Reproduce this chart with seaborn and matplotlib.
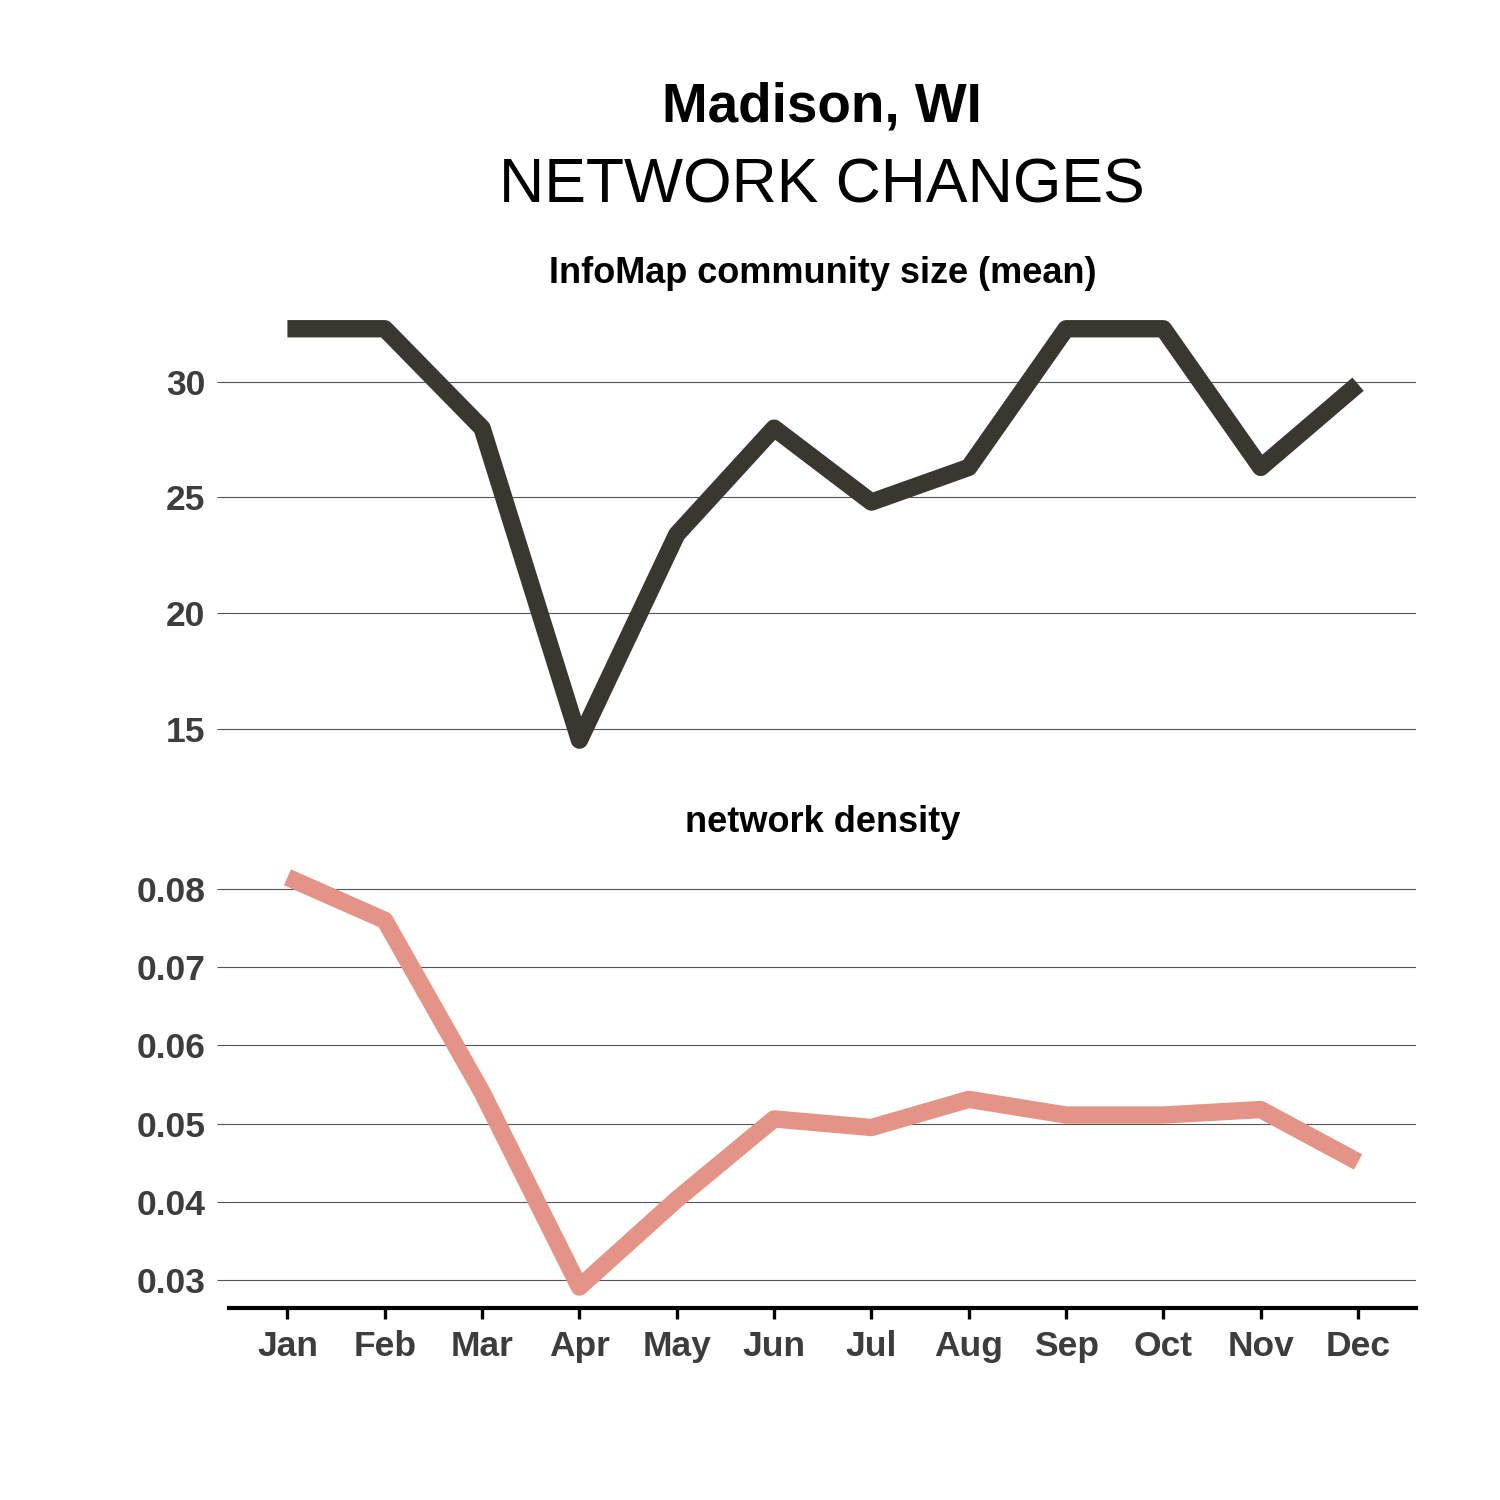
import pandas as pd
import matplotlib
matplotlib.use("Agg")
import matplotlib.pyplot as plt
import seaborn as sns

# valores
meses = ['Jan', 'Feb', 'Mar', 'Apr', 'May', 'Jun', 'Jul', 'Aug', 'Sep', 'Oct', 'Nov', 'Dec']
tamanho_comunidade = [32.3, 32.3, 28.0, 14.5, 23.4, 28.0, 24.8, 26.3, 32.3, 32.3, 26.3, 29.9]
densidade = [0.0815, 0.0760, 0.0540, 0.0291, 0.0403, 0.0506, 0.0495, 0.0531, 0.0511, 0.0511, 0.0518, 0.0451]

ticks_tamanho = [15, 20, 25, 30]
ticks_densidade = [0.03, 0.04, 0.05, 0.06, 0.07, 0.08]

df = pd.DataFrame({'mes': meses, 'tamanho': tamanho_comunidade, 'densidade': densidade})

sns.set_theme(style="white")
plt.rcParams['font.family'] = ['Liberation Sans', 'DejaVu Sans']

cor_texto = '#3d3d3d'
cor_grade = '#555555'

fig = plt.figure(figsize=(15, 15), dpi=100)
ax1 = fig.add_axes([0.1527, 0.4927, 0.7916, 0.3020])
ax2 = fig.add_axes([0.1527, 0.1283, 0.7916, 0.3005])

sns.lineplot(data=df, x='mes', y='tamanho', ax=ax1, color='#3a3730', linewidth=12.5,
             solid_capstyle='butt', solid_joinstyle='round', sort=False)
sns.lineplot(data=df, x='mes', y='densidade', ax=ax2, color='#e49486', linewidth=12.5,
             solid_capstyle='butt', solid_joinstyle='round', sort=False)

for ax in (ax1, ax2):
    ax.set_xlim(-0.6, 11.6)
    ax.set_xlabel('')
    ax.set_ylabel('')
    for s in ax.spines.values():
        s.set_visible(False)
    ax.yaxis.grid(True, color=cor_grade, linewidth=0.8)
    ax.xaxis.grid(False)
    ax.set_axisbelow(True)
    ax.tick_params(axis='y', left=True, length=8.6, width=0.8, color=cor_grade, pad=8.5,
                   labelsize=25.5, labelcolor=cor_texto)

ax1.set_ylim(13.6, 33.2)
ax1.set_yticks(ticks_tamanho)
ax1.set_yticklabels([str(t) for t in ticks_tamanho], fontweight='bold')
ax1.tick_params(axis='x', bottom=False, labelbottom=False)

ax2.set_ylim(0.02648, 0.08412)
ax2.set_yticks(ticks_densidade)
ax2.set_yticklabels([f'{t:.2f}' for t in ticks_densidade], fontweight='bold')
ax2.set_xticks(range(len(meses)))
ax2.set_xticklabels(meses, fontweight='bold')
ax2.spines['bottom'].set_visible(True)
ax2.spines['bottom'].set_color('black')
ax2.spines['bottom'].set_linewidth(3)
ax2.tick_params(axis='x', bottom=True, length=8, width=2.4, color='black', pad=8,
                labelsize=25.5, labelcolor=cor_texto)

ax1.set_title('InfoMap community size (mean)', fontsize=26, fontweight='bold', pad=18, color='black')
ax2.set_title('network density', fontsize=26, fontweight='bold', pad=18, color='black')

fig.text(0.548, 0.9187, 'Madison, WI', ha='center', va='baseline', fontsize=39.5,
         fontweight='bold', color='black')
fig.text(0.548, 0.8647, 'NETWORK CHANGES', ha='center', va='baseline', fontsize=45, color='black')

plt.savefig('out.png', dpi=100)
